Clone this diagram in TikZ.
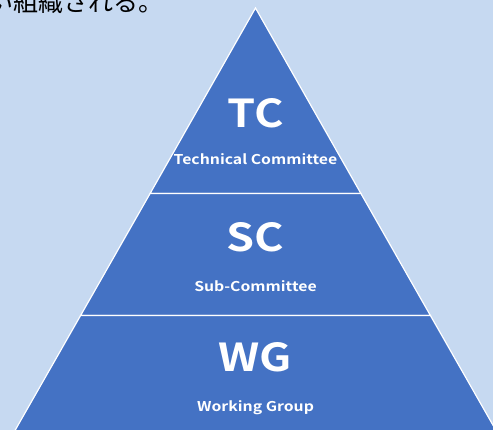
\documentclass[tikz,border=0pt]{standalone}
\usepackage{fontspec}
\newfontfamily\jpfont{Noto Sans CJK JP}
\newfontfamily\labelfont{Noto Sans CJK JP}[BoldFont=* Bold, FakeStretch=1.17]
\definecolor{pagebg}{HTML}{C6D9F1}
\definecolor{tierblue}{HTML}{4472C4}
\begin{document}
\begin{tikzpicture}[x=1pt,y=-1pt,
  tier/.style={fill=tierblue,draw=white,line width=1.2pt,line join=miter},
  acronym/.style={text=white,anchor=base,inner sep=0pt,font=\labelfont\bfseries\fontsize{38.5}{39}\selectfont},
  fullname/.style={text=white,anchor=base,inner sep=0pt,font=\labelfont\bfseries\fontsize{13.5}{14}\selectfont}]
  \clip (0,0) rectangle (493,430);
  \fill[pagebg] (0,0) rectangle (493,430);
  % caption line running off the top edge
  \node[anchor=base west,inner sep=0pt,font=\jpfont\fontsize{25}{25}\selectfont] (caption) at (-12,11.5) {い組織される。};
  % pyramid tiers (apex at 255.5,8; slope 0.57 px per px)
  \path[tier] (255.5,8) -- (360.9,193.5) -- (150.1,193.5) -- cycle;
  \path[tier] (150.1,193.5) -- (360.9,193.5) -- (430.4,315.5) -- (80.6,315.5) -- cycle;
  \path[tier] (80.6,315.5) -- (430.4,315.5) -- (502,441) -- (9,441) -- cycle;
  % labels
  \node[acronym] (tc) at (255.5,128) {TC};
  \node[fullname] (tcname) at (255.5,165) {Technical Committee};
  \node[acronym] (sc) at (255.5,252) {SC};
  \node[fullname] (scname) at (255.5,292) {Sub-Committee};
  \node[acronym] (wg) at (255.5,372) {WG};
  \node[fullname] (wgname) at (255.5,412) {Working Group};
\end{tikzpicture}
\end{document}
